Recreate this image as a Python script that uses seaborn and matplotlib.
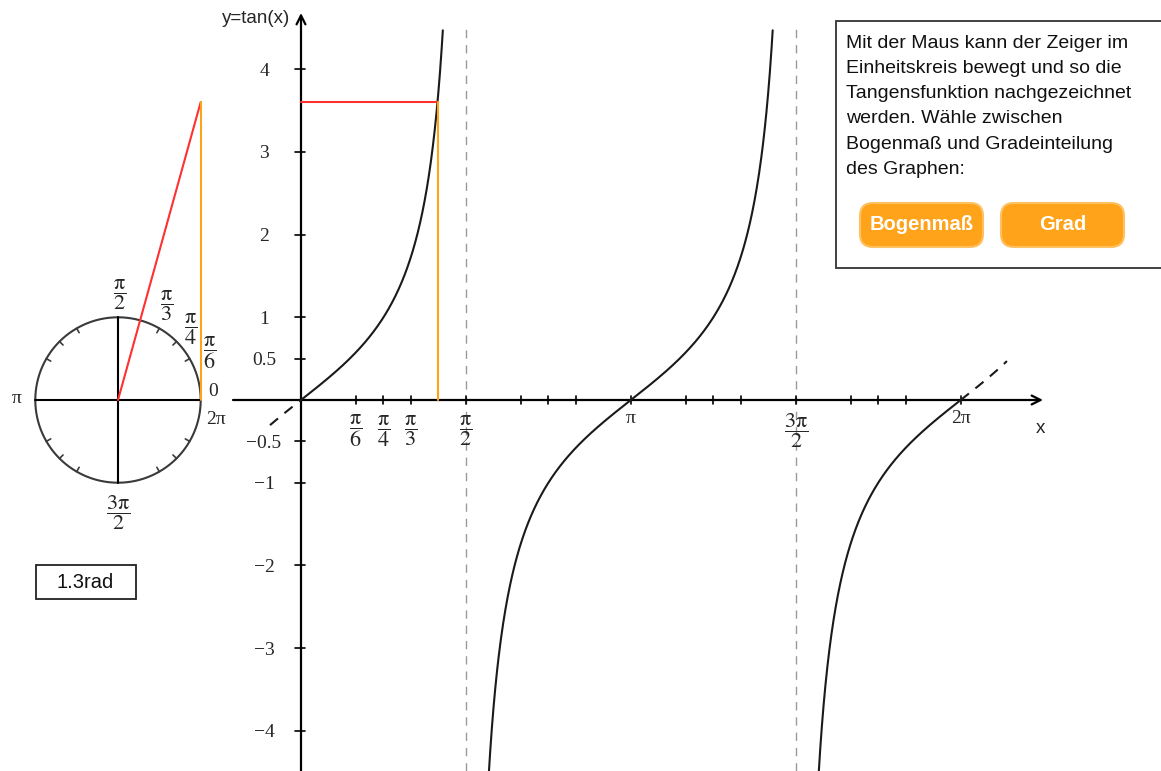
import numpy as np
import pandas as pd
import matplotlib
matplotlib.use("Agg")
import matplotlib.pyplot as plt
import seaborn as sns
from matplotlib.patches import Rectangle, FancyBboxPatch

# ---------------- data ----------------
angle = 1.3                                   # current pointer angle (rad)
angle_label = "1.3rad"
tan_top = 4.47                                # visible upper end of the curve
tan_bottom = -4.6                             # below the visible area
dash_left = -0.295                            # dashed continuation left of 0
dash_right = 0.44                             # dashed continuation right of 2π
asymptotes = [0.5, 1.5]                       # multiples of π
x_tick_mult = [1/6, 1/4, 1/3, 1/2, 2/3, 3/4, 5/6, 1, 7/6, 5/4, 4/3, 3/2, 5/3, 7/4, 11/6, 2]
x_label_mult = [1/6, 1/4, 1/3, 1/2, 1, 3/2, 2]
x_label_text = [r'$\dfrac{\mathrm{\pi}}{6}$', r'$\dfrac{\mathrm{\pi}}{4}$', r'$\dfrac{\mathrm{\pi}}{3}$',
                r'$\dfrac{\mathrm{\pi}}{2}$', 'π', r'$\dfrac{3\mathrm{\pi}}{2}$', '2π']
y_ticks = [4, 3, 2, 1, 0.5, -0.5, -1, -2, -3, -4]
y_tick_labels = ['4', '3', '2', '1', '0.5', '−0.5', '−1', '−2', '−3', '−4']
circle_tick_mult = [1/6, 1/4, 1/3, 2/3, 3/4, 5/6, 7/6, 5/4, 4/3, 5/3, 7/4, 11/6]
info_lines = ["Mit der Maus kann der Zeiger im", "Einheitskreis bewegt und so die",
              "Tangensfunktion nachgezeichnet", "werden. Wähle zwischen",
              "Bogenmaß und Gradeinteilung", "des Graphen:"]
buttons = ["Bogenmaß", "Grad"]

# ---------------- style ----------------
sns.set_theme(style="white")
plt.rcParams['mathtext.fontset'] = 'stix'
plt.rcParams['font.family'] = ['Liberation Sans', 'DejaVu Sans']
SERIF = ['Liberation Serif', 'DejaVu Serif']
RED, ORANGE, CURVE = '#ff3030', '#ffa31a', '#1a1a1a'
FRAC_FS = 16
SERIF_FS = 14

W, H = 1161, 771
X0, Y0 = 301, 400          # pixel position of the origin
SX, SY = 105.0, 82.7       # pixels per unit (x in rad, y)
fig = plt.figure(figsize=(W / 100, H / 100), dpi=100)
fig.patch.set_facecolor('white')

ylim = (-(H - Y0) / SY, Y0 / SY)
ax = fig.add_axes([0, 0, 1, 1])
ax.set_xlim(-X0 / SX, (W - X0) / SX)
ax.set_ylim(*ylim)
ax.axis('off')

PI = np.pi

def branch(a, b, n=500):
    xs = np.linspace(a, b, n)
    return pd.DataFrame({'x': xs, 'y': np.tan(xs)})

solid = [branch(0, np.arctan(tan_top)),
         branch(PI + np.arctan(tan_bottom), PI + np.arctan(tan_top)),
         branch(2 * PI + np.arctan(tan_bottom), 2 * PI)]
dashed = [branch(dash_left, 0), branch(2 * PI, 2 * PI + dash_right)]

# asymptotes
for m in asymptotes:
    ax.plot([m * PI, m * PI], [ylim[0], (Y0 - 25) / SY], color='#9a9a9a', lw=1,
            dashes=(6, 5), zorder=1)

# axes with arrows
ax.annotate('', xy=(0, (Y0 - 13) / SY), xytext=(0, ylim[0]),
            arrowprops=dict(arrowstyle='->', lw=1.6, color='black', mutation_scale=16,
                            shrinkA=0, shrinkB=0), zorder=3)
ax.annotate('', xy=((1043 - X0) / SX, 0), xytext=((233 - X0) / SX, 0),
            arrowprops=dict(arrowstyle='->', lw=1.6, color='black', mutation_scale=16,
                            shrinkA=0, shrinkB=0), zorder=3)

# curves
for df in solid:
    sns.lineplot(data=df, x='x', y='y', ax=ax, color=CURVE, lw=1.5, sort=False,
                 estimator=None, zorder=4)
for df in dashed:
    sns.lineplot(data=df, x='x', y='y', ax=ax, color=CURVE, lw=1.5, sort=False,
                 estimator=None, dashes=(5, 4), zorder=4)

# ticks
for m in x_tick_mult:
    ax.plot([m * PI, m * PI], [-4 / SY, 4 / SY], color='black', lw=1.2, zorder=3)
for yv in y_ticks:
    ax.plot([-6 / SX, 4 / SX], [yv, yv], color='black', lw=1.2, zorder=3)
for yv, lab in zip(y_ticks, y_tick_labels):
    ax.text(-37 / SX, yv - 2 / SY, lab, ha='center', va='center', fontsize=SERIF_FS,
            family=SERIF)
for m, lab in zip(x_label_mult, x_label_text):
    if lab.startswith('$'):
        ax.text(m * PI, -31 / SY, lab, ha='center', va='center', fontsize=FRAC_FS)
    else:
        ax.text(m * PI, -18 / SY, lab, ha='center', va='center', fontsize=SERIF_FS,
                family=SERIF)
ax.text(-11 / SX, (Y0 - 18) / SY, 'y=tan(x)', ha='right', va='center', fontsize=13.5)
ax.text((1040 - X0) / SX, -28 / SY, 'x', ha='center', va='center', fontsize=13.5)

# pointer projection in the graph
tv = np.tan(angle)
ax.plot([0, angle], [tv, tv], color=RED, lw=1.5, zorder=5)
ax.plot([angle, angle], [0, tv], color=ORANGE, lw=1.5, zorder=5)

# ---------------- unit circle ----------------
CX = 118
cx = fig.add_axes([0, 0, 1, 1], facecolor='none')
cx.set_xlim(-CX / SY, (W - CX) / SY)
cx.set_ylim(*ylim)
cx.axis('off')
t = np.linspace(0, 2 * PI, 361)
sns.lineplot(x=np.cos(t), y=np.sin(t), ax=cx, color='#3a3a3a', lw=1.5, sort=False,
             estimator=None)
cx.plot([-1, 1], [0, 0], color='black', lw=1.5)
cx.plot([0, 0], [-1, 1], color='black', lw=1.5)
for m in circle_tick_mult:
    a = m * PI
    cx.plot([np.cos(a), 0.94 * np.cos(a)], [np.sin(a), 0.94 * np.sin(a)],
            color='#3a3a3a', lw=1.2)
cx.plot([0, 1], [0, tv], color=RED, lw=1.5, zorder=5)
cx.plot([1, 1], [0, tv], color=ORANGE, lw=1.5, zorder=5)

circ_labels = [(0.02, 1.27, r'$\dfrac{\mathrm{\pi}}{2}$'), (0.59, 1.14, r'$\dfrac{\mathrm{\pi}}{3}$'),
               (0.88, 0.86, r'$\dfrac{\mathrm{\pi}}{4}$'), (1.11, 0.57, r'$\dfrac{\mathrm{\pi}}{6}$'),
               (0.0, -1.36, r'$\dfrac{3\mathrm{\pi}}{2}$')]
for x, y, lab in circ_labels:
    cx.text(x, y, lab, ha='center', va='center', fontsize=FRAC_FS)
for x, y, lab in [(1.15, 0.10, '0'), (1.19, -0.24, '2π'), (-1.22, 0.02, 'π')]:
    cx.text(x, y, lab, ha='center', va='center', fontsize=SERIF_FS, family=SERIF)

# ---------------- overlay (pixel space) ----------------
ov = fig.add_axes([0, 0, 1, 1], facecolor='none')
ov.set_xlim(0, W)
ov.set_ylim(H, 0)
ov.axis('off')
ov.add_patch(Rectangle((36, 565), 100, 34, fc='white', ec='#222222', lw=1.3))
ov.text(85, 582, angle_label, ha='center', va='center', fontsize=14.5, color='#111111')

ov.add_patch(Rectangle((835.5, 20.5), 340, 247.5, fc='white', ec='#333333', lw=1.3))
for i, line in enumerate(info_lines):
    ov.text(846, 43 + i * 25.3, line, ha='left', va='center', fontsize=14, color='#111111')
for i, lab in enumerate(buttons):
    x0 = 860 + i * 141
    ov.add_patch(FancyBboxPatch((x0, 203), 123, 44,
                                boxstyle='round,pad=0,rounding_size=13',
                                fc=ORANGE, ec='#ffc060', lw=1.5))
    ov.text(x0 + 61.5, 225, lab, ha='center', va='center', fontsize=14.5,
            fontweight='bold', color='white')

fig.savefig('out.png', dpi=100)
